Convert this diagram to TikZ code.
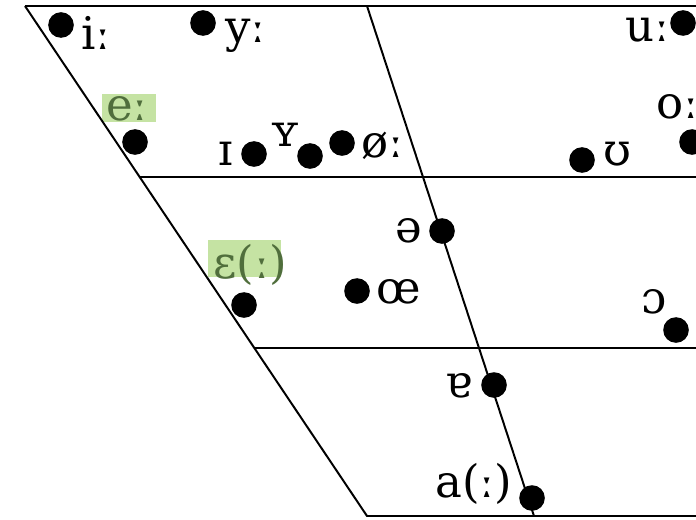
\documentclass[tikz,border=0pt]{standalone}
\usepackage{fontspec}
\setmainfont{DejaVu Serif}
\usetikzlibrary{positioning}
\definecolor{hlgreen}{RGB}{197,227,163}
\definecolor{hltext}{RGB}{80,110,60}

\begin{document}
\begin{tikzpicture}[x=0.025cm,y=-0.025cm,
  vdot/.style={circle,fill=black,inner sep=0pt,minimum size=0.64cm},
  vlab/.style={inner sep=0pt,anchor=base west,font=\fontsize{32}{38}\selectfont},
  chart/.style={line width=1.4pt}]
\useasboundingbox (0,0) rectangle (696,519);
\clip (0,0) rectangle (696,519);
% highlighted labels
\fill[hlgreen] (102,94) rectangle (156,122);
\fill[hlgreen] (208,240) rectangle (281,277);
% chart frame
\draw[chart] (25,6) -- (696,6);
\draw[chart] (25,6) -- (367,516) -- (696,516);
\draw[chart] (139.7,177) -- (696,177);
\draw[chart] (254.3,348) -- (696,348);
\draw[chart] (367,6) -- (534,516);
% vowels
\node[vdot] (d_i) at (61,25) {};
\node[vlab] (l_i) at (81,50) {iː};
\node[vdot] (d_y) at (203,23) {};
\node[vlab] (l_y) at (225,43) {yː};
\node[vdot] (d_u) at (683,23) {};
\node[vlab] (l_u) at (625,42) {uː};
\node[vdot] (d_e) at (135,142) {};
\node[vlab,text=hltext] (l_e) at (106,120) {eː};
\node[vdot] (d_ih) at (254,154) {};
\node[vlab] (l_ih) at (218,165) {ɪ};
\node[vdot] (d_yh) at (310,156) {};
\node[vlab] (l_yh) at (270,146) {ʏ};
\node[vdot] (d_oslash) at (342,143) {};
\node[vlab] (l_oslash) at (361,157) {øː};
\node[vdot] (d_uh) at (582,160) {};
\node[vlab] (l_uh) at (603,165) {ʊ};
\node[vdot] (d_o) at (692,142) {};
\node[vlab] (l_o) at (656,118) {oː};
\node[vdot] (d_schwa) at (442,231) {};
\node[vlab] (l_schwa) at (395,242) {ə};
\node[vdot] (d_eh) at (244,305) {};
\node[vlab,text=hltext] (l_eh) at (213,278) {ɛ(ː)};
\node[vdot] (d_oe) at (357,291) {};
\node[vlab] (l_oe) at (376,303) {œ};
\node[vdot] (d_oh) at (676,330) {};
\node[vlab] (l_oh) at (641,313) {ɔ};
\node[vdot] (d_turna) at (494,385) {};
\node[vlab] (l_turna) at (445,397) {ɐ};
\node[vdot] (d_a) at (532,498) {};
\node[vlab] (l_a) at (435,497) {a(ː)};
\end{tikzpicture}
\end{document}
